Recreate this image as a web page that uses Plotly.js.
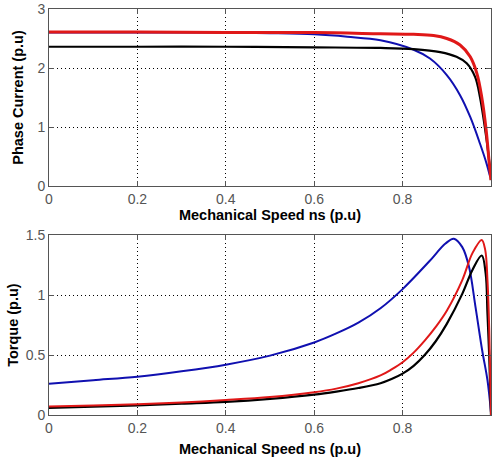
<!DOCTYPE html>
<html>
<head>
<meta charset="utf-8">
<script src="https://cdn.plot.ly/plotly-3.0.1.min.js"></script>
<style>html,body{margin:0;padding:0;background:#fff;}#chart{width:494px;height:459px;}</style>
</head>
<body>
<div id="chart"></div>
<script>
// Top plot: phase current vs mechanical speed
const redCurrentX = [0, 0.2, 0.4, 0.6, 0.75, 0.825, 0.87, 0.9, 0.93, 0.953, 0.968, 0.979, 0.989, 0.996, 1.0];
const redCurrentY = [2.61, 2.61, 2.6, 2.6, 2.58, 2.57, 2.55, 2.5, 2.39, 2.19, 1.91, 1.51, 0.95, 0.39, 0.1];
const blackCurrentX = [0, 0.2, 0.4, 0.6, 0.75, 0.825, 0.885, 0.922, 0.945, 0.964, 0.975, 0.986, 0.994, 1.0];
const blackCurrentY = [2.36, 2.36, 2.36, 2.35, 2.34, 2.32, 2.27, 2.19, 2.08, 1.85, 1.51, 1.0, 0.55, 0.1];
const blueCurrentX = [0, 0.2, 0.4, 0.5, 0.6, 0.675, 0.75, 0.825, 0.862, 0.9, 0.93, 0.953, 0.975, 0.99, 0.998];
const blueCurrentY = [2.6, 2.6, 2.6, 2.59, 2.57, 2.53, 2.47, 2.31, 2.16, 1.88, 1.54, 1.17, 0.72, 0.38, 0.16];

// Bottom plot: torque vs mechanical speed
const blueTorqueX = [0, 0.1, 0.2, 0.3, 0.4, 0.5, 0.6, 0.65, 0.7, 0.75, 0.8, 0.86, 0.897, 0.916, 0.935, 0.95, 0.965, 0.98, 0.992, 1.0];
const blueTorqueY = [0.26, 0.29, 0.32, 0.365, 0.42, 0.495, 0.605, 0.68, 0.77, 0.89, 1.05, 1.28, 1.43, 1.47, 1.40, 1.24, 0.90, 0.54, 0.29, 0.02];
const redTorqueX = [0, 0.1, 0.2, 0.3, 0.4, 0.5, 0.6, 0.65, 0.7, 0.75, 0.775, 0.8, 0.825, 0.85, 0.875, 0.9, 0.935, 0.958, 0.979, 0.987, 0.992, 0.996, 1.0];
const redTorqueY = [0.07, 0.08, 0.09, 0.105, 0.125, 0.15, 0.19, 0.22, 0.265, 0.33, 0.38, 0.44, 0.52, 0.62, 0.735, 0.87, 1.125, 1.35, 1.46, 1.375, 1.125, 0.71, 0];
const blackTorqueX = [0, 0.1, 0.2, 0.3, 0.4, 0.5, 0.6, 0.65, 0.7, 0.75, 0.775, 0.8, 0.825, 0.85, 0.875, 0.9, 0.935, 0.958, 0.979, 0.988, 0.992, 0.996, 1.0];
const blackTorqueY = [0.06, 0.07, 0.08, 0.095, 0.11, 0.135, 0.17, 0.195, 0.225, 0.265, 0.30, 0.345, 0.41, 0.50, 0.615, 0.76, 1.01, 1.21, 1.33, 1.18, 0.85, 0.49, 0];

const xTicks = [0, 0.2, 0.4, 0.6, 0.8, 1];
const xTickText = ['0', '0.2', '0.4', '0.6', '0.8', '1'];
const currentTicks = [0, 1, 2, 3];
const currentTickText = ['0', '1', '2', '3'];
const torqueTicks = [0, 0.5, 1, 1.5];
const torqueTickText = ['0', '0.5', '1', '1.5'];

const xTitle = 'Mechanical Speed ns (p.u)';
const currentTitle = 'Phase Current (p.u)';
const torqueTitle = 'Torque (p.u)';

const BLUE = '#1010b0', RED = '#e01818', BLACK = '#000000';
const sp = {shape: 'spline', smoothing: 1};

const traces = [
  {x: blueCurrentX, y: blueCurrentY, xaxis: 'x', yaxis: 'y', mode: 'lines', line: Object.assign({color: BLUE, width: 2}, sp)},
  {x: blackCurrentX, y: blackCurrentY, xaxis: 'x', yaxis: 'y', mode: 'lines', line: Object.assign({color: BLACK, width: 2.2}, sp)},
  {x: redCurrentX, y: redCurrentY, xaxis: 'x', yaxis: 'y', mode: 'lines', line: Object.assign({color: RED, width: 3}, sp)},
  {x: blueTorqueX, y: blueTorqueY, xaxis: 'x2', yaxis: 'y2', mode: 'lines', line: Object.assign({color: BLUE, width: 2}, sp)},
  {x: blackTorqueX, y: blackTorqueY, xaxis: 'x2', yaxis: 'y2', mode: 'lines', line: Object.assign({color: BLACK, width: 2.2}, sp)},
  {x: redTorqueX, y: redTorqueY, xaxis: 'x2', yaxis: 'y2', mode: 'lines', line: Object.assign({color: RED, width: 2}, sp)}
];

const tickFont = {family: 'Liberation Sans, Arial, sans-serif', size: 14, color: '#555'};
const titleFont = {family: 'Liberation Sans, Arial, sans-serif', size: 14.5, color: '#000', weight: 'bold'};

function xax(anchor, standoff) {
  return {
    anchor: anchor, range: [0, 1], tickvals: xTicks, ticktext: xTickText,
    ticks: 'inside', ticklen: 5, tickcolor: '#555', mirror: 'allticks',
    showline: true, linecolor: '#555', linewidth: 1,
    showgrid: true, gridcolor: '#000', griddash: '1px,3px', gridwidth: 1,
    zeroline: false, tickfont: tickFont,
    title: {text: xTitle, font: titleFont, standoff: standoff}
  };
}
function yax(anchor, range, vals, text, title, standoff) {
  return {
    anchor: anchor, range: range, tickvals: vals, ticktext: text,
    ticks: 'inside', ticklen: 5, tickcolor: '#555', mirror: 'allticks',
    showline: true, linecolor: '#555', linewidth: 1,
    showgrid: true, gridcolor: '#000', griddash: '1px,3px', gridwidth: 1,
    zeroline: false, tickfont: tickFont,
    title: {text: title, font: titleFont, standoff: standoff}
  };
}

const layout = {
  width: 494, height: 459,
  margin: {l: 49, r: 3, t: 9, b: 44},
  paper_bgcolor: '#fff', plot_bgcolor: '#fff',
  showlegend: false,
  xaxis: Object.assign(xax('y', 2), {domain: [0, 1]}),
  yaxis: Object.assign(yax('x', [0, 3], currentTicks, currentTickText, currentTitle, 10), {domain: [0.564, 1]}),
  xaxis2: Object.assign(xax('y2', 9), {domain: [0, 1]}),
  yaxis2: Object.assign(yax('x2', [0, 1.5], torqueTicks, torqueTickText, torqueTitle, 3), {domain: [0, 0.443]})
};

Plotly.newPlot('chart', traces, layout, {displayModeBar: false, staticPlot: true});
</script>
</body>
</html>
